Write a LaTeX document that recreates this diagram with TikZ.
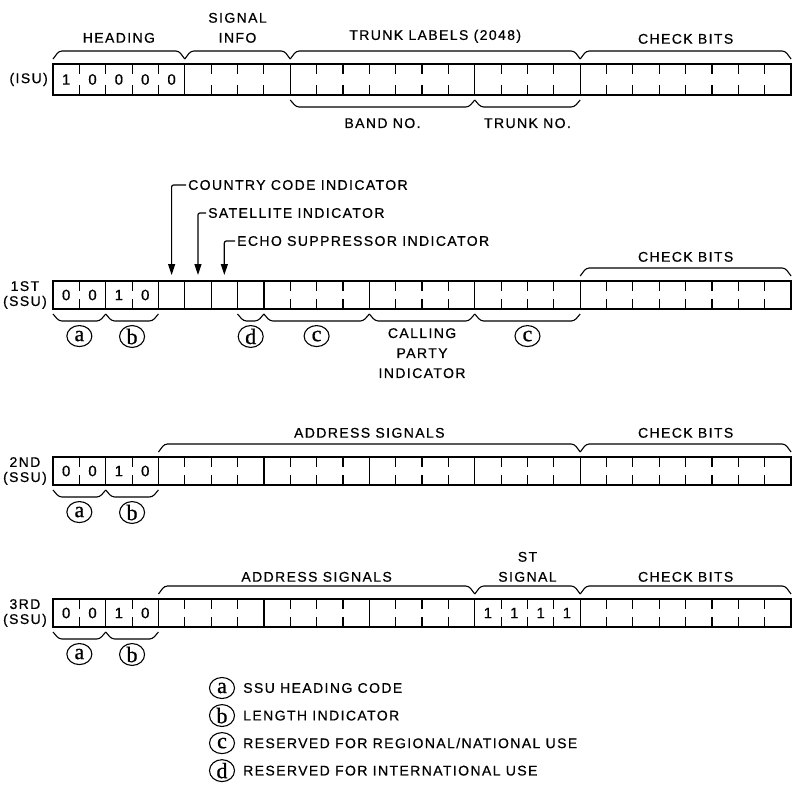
\documentclass[tikz,border=0pt]{standalone}
\usepackage{fontspec}
\setmainfont{Liberation Sans}[LetterSpace=10, FakeBold=0.6]
\newfontfamily\circfont{Liberation Serif}[FakeBold=0.8]
\usetikzlibrary{arrows.meta, positioning, calc, shapes.geometric}

\newcommand{\cellw}{26.36}
\newcommand{\bitrow}[1]{\foreach \bitval in {#1}{\makebox[\cellw pt]{\bitval}}}

\begin{document}
\begin{tikzpicture}[x=1pt, y=1pt,
    node distance=19pt,
    >={Triangle[length=11pt,width=7pt]},
    field/.style = {draw, line width=1.3pt, inner sep=0pt, outer sep=0pt,
        minimum width=#1*\cellw, minimum height=28, font=\fontsize{15}{16}\selectfont,
        path picture={\ifnum#1>1
            \foreach \k in {2,...,#1}
                \draw[line width=1.1pt] ($(path picture bounding box.north west)+(\k*\cellw-\cellw,0)$) -- ++(0,-10)
                    ($(path picture bounding box.south west)+(\k*\cellw-\cellw,0)$) -- ++(0,10);
            \fi}},
    tall/.style = {minimum height=31},
    lbl/.style = {inner sep=0pt, align=center, font=\fontsize{14}{20}\selectfont},
    tag/.style = {inner sep=0pt, align=center, font=\fontsize{14}{15}\selectfont},
    circ/.style = {ellipse, draw, line width=1.1pt, minimum width=25, minimum height=21, inner sep=0pt, font=\circfont\fontsize{22}{22}\selectfont},
    bracket/.style = {line width=1.1pt, rounded corners=3pt},
    over/.style = {to path={($(\tikztostart)+(0,5)$) -- ++(6,8) -- ($(\tikztotarget)+(-6,13)$) -- ($(\tikztotarget)+(0,5)$)}},
    under/.style = {to path={($(\tikztostart)+(0,-5)$) -- ++(6,-7) -- ($(\tikztotarget)+(-6,-12)$) -- ($(\tikztotarget)+(0,-5)$)}},
    pointer/.style = {->, line width=1.2pt, shorten >=6pt, rounded corners=2pt}]

    \useasboundingbox (0,0) rectangle (794,-787);

    % initial signal unit
    \node[field=5, tall, anchor=north west] (head) at (53,-64) {\bitrow{1,0,0,0,0}};
    \node[field=4, tall, right=0pt of head] (info) {};
    \node[field=7, tall, right=0pt of info] (band) {};
    \node[field=4, tall, right=0pt of band] (trunk) {};
    \node[field=8, tall, right=0pt of trunk] (chk0) {};
    \node[tag, left=5pt of head] {(ISU)};
    \coordinate (tl) at ($(band.north west)!0.5!(trunk.north east)$);
    \node[lbl, above=21pt of head] {HEADING};
    \node[lbl, above=21pt of info] {SIGNAL\\INFO};
    \node[lbl, above=21pt of tl] {TRUNK LABELS (2048)};
    \node[lbl, above=20pt of chk0] {CHECK BITS};
    \node[lbl, below=23pt of band] {BAND NO.};
    \node[lbl, below=23pt of trunk] {TRUNK NO.};
    \draw[bracket] (head.north west) to[over] (head.north east);
    \draw[bracket] (info.north west) to[over] (info.north east);
    \draw[bracket] (band.north west) to[over] (trunk.north east);
    \draw[bracket] (chk0.north west) to[over] (chk0.north east);
    \draw[bracket] (band.south west) to[under] (band.south east);
    \draw[bracket] (trunk.south west) to[under] (trunk.south east);

    % 1st subsequent signal unit
    \node[field=2, anchor=north west] (a1) at (53,-281) {\bitrow{0,0}};
    \node[field=2, right=0pt of a1] (b1) {\bitrow{1,0}};
    \node[field=1, right=0pt of b1] (cc) {};
    \node[field=1, right=0pt of cc] (sat) {};
    \node[field=1, right=0pt of sat] (echo) {};
    \node[field=1, right=0pt of echo] (d1) {};
    \node[field=4, right=0pt of d1] (c1) {};
    \node[field=4, right=0pt of c1] (cp) {};
    \node[field=4, right=0pt of cp] (c2) {};
    \node[field=8, right=0pt of c2] (chk1) {};
    \node[tag, left=6pt of a1] {1ST\\(SSU)};
    \node[lbl, above=of chk1] {CHECK BITS};
    \node[lbl, below=of cp] {CALLING\\PARTY\\INDICATOR};
    \node[lbl, inner sep=2pt, anchor=west] (ccl) at (186,-185) {COUNTRY CODE INDICATOR};
    \node[lbl, inner sep=2pt, anchor=west] (satl) at (206,-213) {SATELLITE INDICATOR};
    \node[lbl, inner sep=2pt, anchor=west] (echol) at (235,-241) {ECHO SUPPRESSOR INDICATOR};
    \draw[pointer] (ccl.west) -| (cc.north);
    \draw[pointer] (satl.west) -| (sat.north);
    \draw[pointer] (echol.west) -| (echo.north);
    \draw[bracket] (chk1.north west) to[over] (chk1.north east);
    \draw[bracket] (a1.south west) to[under] (a1.south east);
    \draw[bracket] (b1.south west) to[under] (b1.south east);
    \draw[bracket] (d1.south west) to[under] (d1.south east);
    \draw[bracket] (c1.south west) to[under] (c1.south east);
    \draw[bracket] (cp.south west) to[under] (cp.south east);
    \draw[bracket] (c2.south west) to[under] (c2.south east);
    \node[circ, below=16pt of a1] {a};
    \node[circ, below=16pt of b1] {b};
    \node[circ, below=16pt of d1] {d};
    \node[circ, below=16pt of c1] {c};
    \node[circ, below=16pt of c2] {c};

    % 2nd subsequent signal unit
    \node[field=2, anchor=north west] (a2) at (53,-457) {\bitrow{0,0}};
    \node[field=2, right=0pt of a2] (b2) {\bitrow{1,0}};
    \node[field=4, right=0pt of b2] (ad21) {};
    \node[field=4, right=0pt of ad21] (ad22) {};
    \node[field=4, right=0pt of ad22] (ad23) {};
    \node[field=4, right=0pt of ad23] (ad24) {};
    \node[field=8, right=0pt of ad24] (chk2) {};
    \node[tag, left=6pt of a2] {2ND\\(SSU)};
    \node[lbl, above=of ad22.north east] {ADDRESS SIGNALS};
    \node[lbl, above=of chk2] {CHECK BITS};
    \draw[bracket] (ad21.north west) to[over] (ad24.north east);
    \draw[bracket] (chk2.north west) to[over] (chk2.north east);
    \draw[bracket] (a2.south west) to[under] (a2.south east);
    \draw[bracket] (b2.south west) to[under] (b2.south east);
    \node[circ, below=16pt of a2] {a};
    \node[circ, below=16pt of b2] {b};

    % 3rd subsequent signal unit
    \node[field=2, anchor=north west] (a3) at (53,-599) {\bitrow{0,0}};
    \node[field=2, right=0pt of a3] (b3) {\bitrow{1,0}};
    \node[field=4, right=0pt of b3] (ad31) {};
    \node[field=4, right=0pt of ad31] (ad32) {};
    \node[field=4, right=0pt of ad32] (ad33) {};
    \node[field=4, right=0pt of ad33] (st) {\bitrow{1,1,1,1}};
    \node[field=8, right=0pt of st] (chk3) {};
    \node[tag, left=6pt of a3] {3RD\\(SSU)};
    \node[lbl, above=17pt of ad32] {ADDRESS SIGNALS};
    \node[lbl, above=17pt of st] {ST\\SIGNAL};
    \node[lbl, above=17pt of chk3] {CHECK BITS};
    \draw[bracket] (ad31.north west) to[over] (ad33.north east);
    \draw[bracket] (st.north west) to[over] (st.north east);
    \draw[bracket] (chk3.north west) to[over] (chk3.north east);
    \draw[bracket] (a3.south west) to[under] (a3.south east);
    \draw[bracket] (b3.south west) to[under] (b3.south east);
    \node[circ, below=16pt of a3] {a};
    \node[circ, below=16pt of b3] {b};

    % key
    \node[circ] (ka) at (222,-688) {a};
    \node[circ, below=5pt of ka] (kb) {b};
    \node[circ, below=5pt of kb] (kc) {c};
    \node[circ, below=5pt of kc] (kd) {d};
    \node[lbl, right=8pt of ka] {SSU HEADING CODE};
    \node[lbl, right=8pt of kb] {LENGTH INDICATOR};
    \node[lbl, right=8pt of kc] {RESERVED FOR REGIONAL/NATIONAL USE};
    \node[lbl, right=8pt of kd] {RESERVED FOR INTERNATIONAL USE};
\end{tikzpicture}
\end{document}
